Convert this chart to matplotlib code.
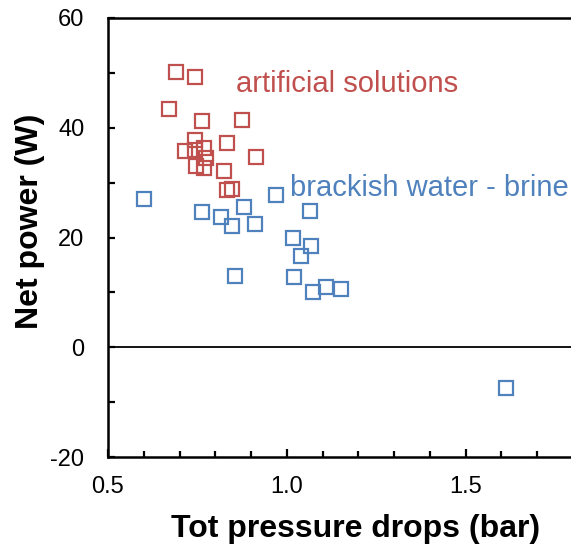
import matplotlib
matplotlib.use("Agg")
import matplotlib.pyplot as plt
from matplotlib.ticker import MultipleLocator, FixedLocator

plt.rcParams['font.family'] = ['Liberation Sans', 'DejaVu Sans']
plt.rcParams['axes.unicode_minus'] = False

# Artificial solutions
art_dp = [0.690, 0.744, 0.671, 0.762, 0.876, 0.744, 0.716, 0.743, 0.769,
          0.774, 0.747, 0.769, 0.834, 0.914, 0.825, 0.834, 0.846]
art_pw = [50.2, 49.3, 43.5, 41.3, 41.5, 37.7, 35.8, 36.0, 36.4,
          34.5, 33.0, 32.6, 37.3, 34.6, 32.1, 28.6, 28.9]

# Brackish water - brine
bw_dp = [0.601, 0.764, 0.816, 0.881, 0.848, 0.912, 0.971, 0.856, 1.065,
         1.018, 1.068, 1.040, 1.021, 1.072, 1.110, 1.152, 1.614]
bw_pw = [27.1, 24.7, 23.8, 25.5, 22.1, 22.4, 27.7, 13.0, 24.9,
         20.0, 18.5, 16.6, 12.8, 10.1, 11.0, 10.6, -7.5]

red = '#C0504D'
blue = '#4F81BD'

W, H = 571, 547
fig = plt.figure(figsize=(W / 100, H / 100), dpi=100)
ax = fig.add_axes([108 / W, 1 - 457 / H, (573 - 108) / W, (457 - 18) / H])

ax.plot(art_dp, art_pw, 's', ms=10, mfc='none', mec=red, mew=1.6, ls='none')
ax.plot(bw_dp, bw_pw, 's', ms=10, mfc='none', mec=blue, mew=1.6, ls='none')

ax.axhline(0, color='black', lw=1.3, zorder=0)

ax.set_xlim(0.5, 1.8)
ax.set_ylim(-20, 60)

ax.xaxis.set_major_locator(FixedLocator([0.5, 1.0, 1.5]))
ax.xaxis.set_minor_locator(MultipleLocator(0.1))
ax.yaxis.set_major_locator(MultipleLocator(20))
ax.yaxis.set_minor_locator(MultipleLocator(10))
ax.set_xticklabels(['0.5', '1.0', '1.5'])

ax.tick_params(axis='both', which='both', direction='in', width=1.6,
               labelsize=17, top=False, right=False)
ax.tick_params(axis='x', which='major', length=6, pad=14)
ax.tick_params(axis='x', which='minor', length=4.5)
ax.tick_params(axis='y', which='major', length=5, pad=17)
ax.tick_params(axis='y', which='minor', length=5)

for side in ['left', 'bottom', 'top']:
    ax.spines[side].set_linewidth(1.8)
ax.spines['right'].set_visible(False)

ax.set_xlabel('Tot pressure drops (bar)', fontsize=23, fontweight='bold', labelpad=11)
ax.set_ylabel('Net power (W)', fontsize=23, fontweight='bold', labelpad=4)
ax.xaxis.label.set_x(0.533)
ax.yaxis.label.set_y(0.538)

ax.text(0.857, 48.0, 'artificial solutions', color=red, fontsize=21, va='center')
ax.text(1.01, 29.0, 'brackish water - brine', color=blue, fontsize=21, va='center')

fig.savefig('out.png', dpi=100)
